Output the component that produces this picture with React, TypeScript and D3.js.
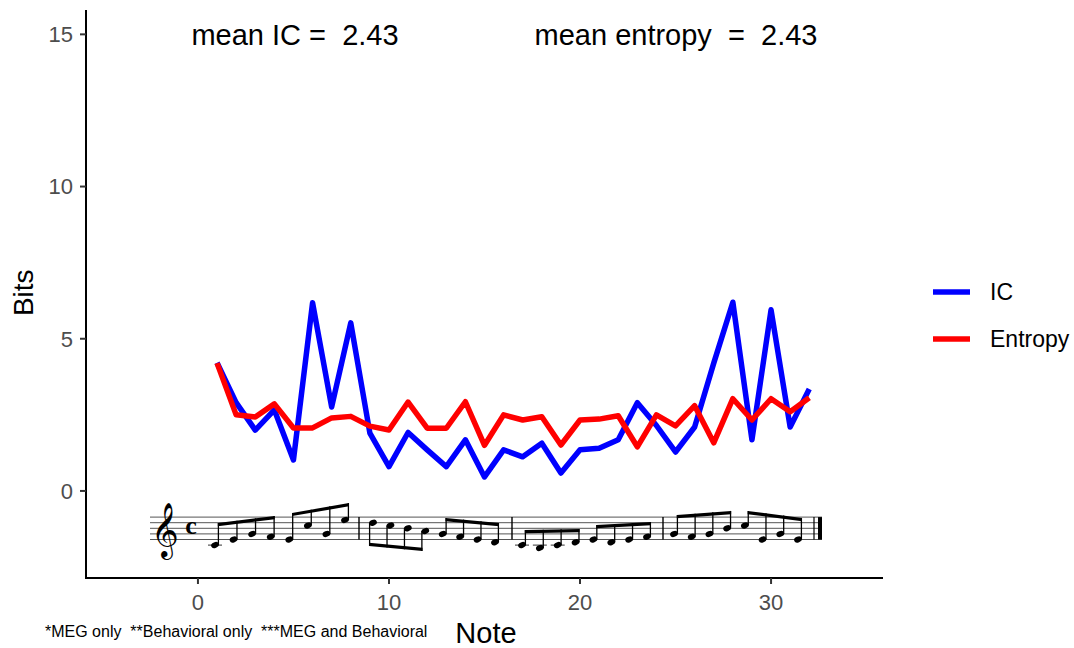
import React from "react";
import * as d3 from "d3";

// ---- data ----
const notes = d3.range(1, 33);
const icValues = [4.21, 2.9, 2.0, 2.66, 1.02, 6.18, 2.76, 5.52, 1.9, 0.8, 1.92, 1.35, 0.8, 1.68, 0.46, 1.35, 1.12, 1.57, 0.59, 1.35, 1.4, 1.68, 2.9, 2.15, 1.28, 2.1, 4.2, 6.2, 1.68, 5.95, 2.1, 3.35];
const entropyValues = [4.2, 2.5, 2.43, 2.86, 2.07, 2.07, 2.4, 2.45, 2.13, 2.0, 2.92, 2.06, 2.06, 2.93, 1.5, 2.5, 2.33, 2.44, 1.51, 2.33, 2.36, 2.47, 1.45, 2.5, 2.14, 2.8, 1.58, 3.03, 2.33, 3.03, 2.6, 3.06];
const xTicks = [0, 10, 20, 30];
const yTicks = [0, 5, 10, 15];
const seriesNames = ["IC", "Entropy"];
const seriesColors = ["#0000FF", "#FF0000"];
const meanIC = "2.43";
const meanEntropy = "2.43";
const footnote = "*MEG only  **Behavioral only  ***MEG and Behavioral";

// melody in staff steps (0 = E4 bottom line)
const pitches = [-2, 0, 2, 1, 0, 5, 2, 7, 6, 5, 4, 3, 2, 1, 0, -1, -2, -3, -2, -1, 0, -1, 0, 1, 2, 1, 2, 4, 5, 0, 2, 0];
// beam groups: [firstNote, stemDir (1 up/-1 down), beam start step, beam end step]
const beamGroups: [number, number, number, number][] = [
  [0, 1, 5.9, 8.4],
  [4, 1, 9.5, 13],
  [8, -1, -2.3, -4.1],
  [12, 1, 7.7, 5.9],
  [16, 1, 3.4, 3.75],
  [20, 1, 5.2, 6.25],
  [24, 1, 8.75, 10.2],
  [28, 1, 10.2, 7.7],
];

const W = 1074, H = 648;
const x = d3.scaleLinear().domain([-5.86, 35.86]).range([86, 883]);
const y = d3.scaleLinear().domain([-2.86, 15.8]).range([578, 10]);

// staff layout
const staffBottom = 539.5;
const stepH = 2.8;
const staffLeft = 150, staffRight = 822;
const noteX = d3.scaleLinear().domain([0, 7, 8, 15, 16, 23, 24, 31]).range([215, 345, 373, 495, 522, 647, 674, 798]);
const barlines = [359, 512, 663];
const sy = (s: number) => staffBottom - s * stepH;

const font = "Liberation Sans, Arial, Helvetica, sans-serif";

function Staff() {
  const els: React.ReactNode[] = [];
  for (let i = 0; i < 5; i++) {
    els.push(<line key={"sl" + i} x1={staffLeft} x2={staffRight} y1={sy(i * 2)} y2={sy(i * 2)} stroke="#555" strokeWidth={1} />);
  }
  barlines.forEach((b, i) => els.push(<line key={"bl" + i} x1={b} x2={b} y1={sy(8)} y2={sy(0)} stroke="#000" strokeWidth={1.4} />));
  els.push(<line key="fb1" x1={814} x2={814} y1={sy(8)} y2={sy(0)} stroke="#000" strokeWidth={1.2} />);
  els.push(<rect key="fb2" x={818} width={4} y={sy(8)} height={sy(0) - sy(8)} fill="#000" />);
  // clef and time signature
  els.push(<text key="clef" x={165} y={546} fontSize={47} textAnchor="middle" fontFamily="DejaVu Sans, Noto Sans, sans-serif">{"\u{1D11E}"}</text>);
  els.push(<text key="time" x={191} y={534} fontSize={26} fontWeight="bold" textAnchor="middle" fontFamily="Liberation Serif, DejaVu Serif, serif">c</text>);
  const rx = 4, ry = 2.9;
  pitches.forEach((p, i) => {
    const cx = noteX(i), cy = sy(p);
    if (p <= -2) {
      els.push(<line key={"ld" + i} x1={cx - 7} x2={cx + 7} y1={sy(-2)} y2={sy(-2)} stroke="#333" strokeWidth={1} />);
    }
    els.push(<ellipse key={"nh" + i} cx={cx} cy={cy} rx={rx} ry={ry} transform={`rotate(-22 ${cx} ${cy})`} fill="#000" />);
  });
  beamGroups.forEach(([start, dir, b0, b1], g) => {
    const idx = d3.range(start, start + 4);
    const sx = (i: number) => noteX(i) + (dir > 0 ? rx - 0.6 : -rx + 0.6);
    const x0 = sx(idx[0]), x1 = sx(idx[3]);
    const by = d3.scaleLinear().domain([x0, x1]).range([sy(b0), sy(b1)]);
    idx.forEach((i) => {
      els.push(<line key={"st" + i} x1={sx(i)} x2={sx(i)} y1={sy(pitches[i])} y2={by(sx(i))} stroke="#000" strokeWidth={1.3} />);
    });
    const t = 3.2 * (dir > 0 ? 1 : -1);
    els.push(<polygon key={"bm" + g} points={`${x0 - 0.6},${by(x0)} ${x1 + 0.6},${by(x1)} ${x1 + 0.6},${by(x1) + t} ${x0 - 0.6},${by(x0) + t}`} fill="#000" />);
  });
  return <g>{els}</g>;
}

export default function App() {
  const line = d3.line<number>().x((_, i) => x(notes[i])).y((d) => y(d));
  const series = [icValues, entropyValues];
  return (
    <svg width={W} height={H} style={{ position: "absolute", left: 0, top: 0, background: "#fff" }} fontFamily={font}>
      <rect width={W} height={H} fill="#fff" />
      <Staff />
      {series.map((s, k) => (
        <path key={k} d={line(s) || ""} fill="none" stroke={seriesColors[k]} strokeWidth={5.5} strokeLinejoin="round" strokeLinecap="butt" />
      ))}
      {/* axes */}
      <line x1={86} x2={86} y1={y.range()[1]} y2={y.range()[0] + 1} stroke="#000" strokeWidth={2} />
      <line x1={85} x2={x.range()[1]} y1={578} y2={578} stroke="#000" strokeWidth={2} />
      {yTicks.map((t) => (
        <g key={"y" + t}>
          <line x1={80} x2={86} y1={y(t)} y2={y(t)} stroke="#333" strokeWidth={2} />
          <text x={73} y={y(t)} dy="0.36em" textAnchor="end" fontSize={22} fill="#4D4D4D">{t}</text>
        </g>
      ))}
      {xTicks.map((t) => (
        <g key={"x" + t}>
          <line x1={x(t)} x2={x(t)} y1={578} y2={584} stroke="#333" strokeWidth={2} />
          <text x={x(t)} y={610} textAnchor="middle" fontSize={22} fill="#4D4D4D">{t}</text>
        </g>
      ))}
      <text x={486} y={643} textAnchor="middle" fontSize={29} fill="#000">Note</text>
      <text transform={`translate(33,${y(5) - 46}) rotate(-90)`} textAnchor="middle" fontSize={28} fill="#000">Bits</text>
      <text x={295} y={45} textAnchor="middle" fontSize={29} fill="#000" style={{ whiteSpace: "pre" }}>{`mean IC =  ${meanIC}`}</text>
      <text x={676} y={45} textAnchor="middle" fontSize={29} fill="#000" style={{ whiteSpace: "pre" }}>{`mean entropy  =  ${meanEntropy}`}</text>
      <text x={45} y={637} fontSize={16} fill="#000" style={{ whiteSpace: "pre" }}>{footnote}</text>
      {/* legend */}
      {seriesNames.map((n, i) => (
        <g key={n} transform={`translate(0,${292 + i * 47})`}>
          <line x1={933} x2={970} y1={0} y2={0} stroke={seriesColors[i]} strokeWidth={5.5} />
          <text x={990} y={0} dy="0.36em" fontSize={23} fill="#000">{n}</text>
        </g>
      ))}
    </svg>
  );
}
